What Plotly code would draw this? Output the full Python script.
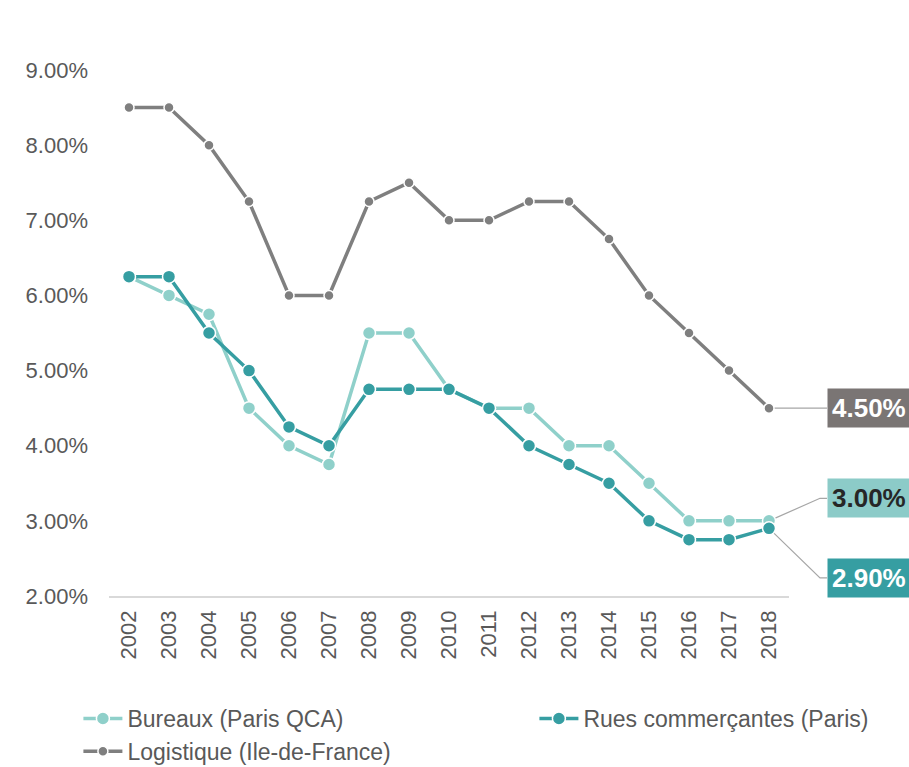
import plotly.graph_objects as go

# Rendements prime (%) par année
years = [str(y) for y in range(2002, 2019)]
bureaux = [6.25, 6.00, 5.75, 4.50, 4.00, 3.75, 5.50, 5.50, 4.75, 4.50, 4.50, 4.00, 4.00, 3.50, 3.00, 3.00, 3.00]
rues = [6.25, 6.25, 5.50, 5.00, 4.25, 4.00, 4.75, 4.75, 4.75, 4.50, 4.00, 3.75, 3.50, 3.00, 2.75, 2.75, 2.90]
logistique = [8.50, 8.50, 8.00, 7.25, 6.00, 6.00, 7.25, 7.50, 7.00, 7.00, 7.25, 7.25, 6.75, 6.00, 5.50, 5.00, 4.50]

names = ["Bureaux (Paris QCA)", "Rues commerçantes (Paris)", "Logistique (Ile-de-France)"]
colors = ["#8FD0CA", "#369EA2", "#7F7F7F"]
legend_ids = ["legend", "legend2", "legend"]
label_bg = ["#8CCBC8", "#369EA2", "#7A7574"]
label_fg = ["#262626", "#FFFFFF", "#FFFFFF"]
label_y = [3.30, 2.24, 4.50]  # vertical centre of each end label (in %)

FONT = "Arial, Liberation Sans, sans-serif"
series = [bureaux, rues, logistique]
marker_sizes = [13, 13, 10]
Y_MIN, Y_MAX = 2, 9
n = len(years)

fig = go.Figure()
for vals, name, col, ms, lg in zip(series, names, colors, marker_sizes, legend_ids):
    fig.add_trace(go.Scatter(
        x=years, y=vals, name=name, mode="lines+markers", legend=lg,
        line=dict(color=col, width=3.5),
        marker=dict(size=ms, color=col, line=dict(color="white", width=1.5)),
        cliponaxis=False,
    ))


def to_px(idx):
    # category index -> paper fraction of the x axis
    return (idx + 0.5) / n


def to_py(v):
    # value -> paper fraction of the y axis
    return (v - Y_MIN) / (Y_MAX - Y_MIN)


# End labels with elbow leader lines, placed in the right margin
last_idx = n - 1
elbow_x = 1.0456
box_x = 1.0559
for vals, bg, fg, ly in zip(series, label_bg, label_fg, label_y):
    v = vals[-1]
    fig.add_shape(type="path", xref="paper", yref="paper",
                  path=(f"M {to_px(last_idx)} {to_py(v)} L {elbow_x} {to_py(ly)} "
                        f"L {box_x} {to_py(ly)}"),
                  line=dict(color="#A6A6A6", width=1.2), layer="below")
    fig.add_annotation(xref="paper", yref="paper", x=box_x, y=to_py(ly),
                       xanchor="left", yanchor="middle",
                       text=f"<b>{v:.2f}%</b>", showarrow=False,
                       font=dict(family=FONT, size=26, color=fg),
                       bgcolor=bg, borderpad=4)

legend_style = dict(orientation="v", xanchor="left", y=-0.192, yanchor="top",
                    itemwidth=39, tracegroupgap=0, bgcolor="rgba(0,0,0,0)",
                    font=dict(size=23, color="#595959"))

fig.update_layout(
    width=909, height=767,
    margin=dict(l=109, r=120, t=70, b=171, autoexpand=False),
    paper_bgcolor="white", plot_bgcolor="white",
    font=dict(family=FONT, size=22, color="#595959"),
    xaxis=dict(type="category", range=[-0.5, last_idx + 0.5], autorange=False,
               tickangle=-90, showgrid=False, showline=True, automargin=False,
               linecolor="#D9D9D9", linewidth=1.5, ticks="", ticklen=0,
               ticklabelstandoff=4,
               tickfont=dict(size=22, color="#595959")),
    yaxis=dict(range=[Y_MIN, Y_MAX], dtick=1, tickformat=".2f", ticksuffix="%",
               showgrid=False, zeroline=False, showline=False, automargin=False,
               ticklabelstandoff=20,
               tickfont=dict(size=22, color="#595959")),
    legend=dict(x=-0.045, **legend_style),
    legend2=dict(x=0.6256, **legend_style),
    showlegend=True,
)

fig.write_html("out.html")
